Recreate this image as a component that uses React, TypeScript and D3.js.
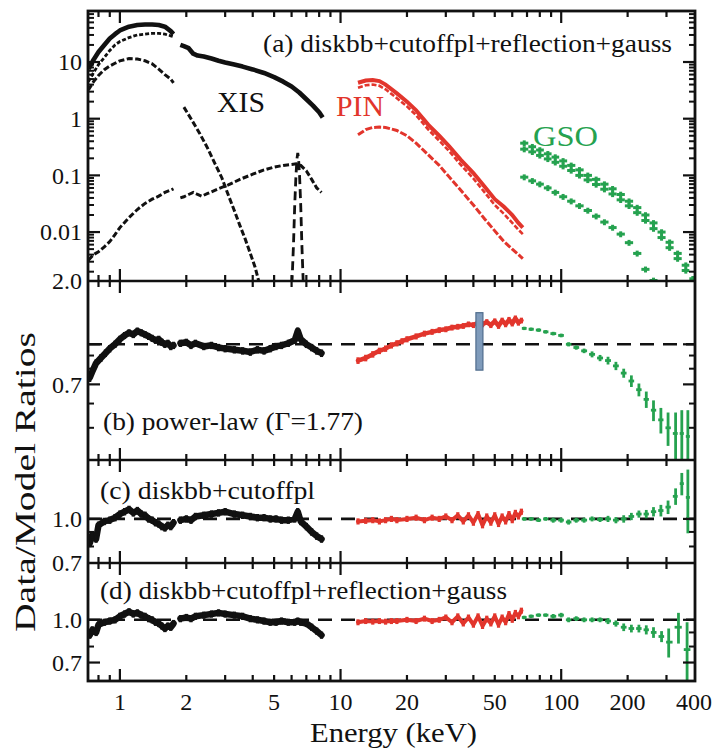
import * as d3 from "d3";

type Pt = [number, number] | null;
type Bin = [number, number, number];

const FONT = "Liberation Serif, Times, serif";
const RED = "#e2352c";
const GREEN = "#25a24f";

const energyMajor = [1, 10, 100];
const energyMinor = [0.8, 0.9, 2, 3, 4, 5, 6, 7, 8, 9, 20, 30, 40, 50, 60, 70, 80, 90, 200, 300];
const energyLabels = [1, 2, 5, 10, 20, 50, 100, 200, 400];

// (a) unfolded spectra, null = gap around the Si edge
const xisTotal: Pt[] = [[0.72, 7.5], [0.74, 9], [0.76, 11], [0.8, 15], [0.85, 20], [0.9, 26], [0.95, 31], [1.0, 36], [1.1, 42], [1.2, 45], [1.3, 46], [1.4, 46], [1.5, 45], [1.6, 42], [1.7, 35], [1.75, 31], null,
  [1.88, 20], [1.95, 19], [2.05, 17.5], [2.15, 14], [2.25, 13], [2.4, 12.5], [2.6, 11.5], [2.8, 10.5], [3.0, 9.8], [3.3, 9.0], [3.6, 8.3], [4.0, 7.4], [4.5, 6.4], [5.0, 5.4], [5.5, 4.5], [6.0, 3.7], [6.5, 2.9], [7.0, 2.2], [7.5, 1.7], [8.0, 1.3], [8.3, 1.05]];
const xisCutoffpl: Pt[] = [[0.72, 4.5], [0.76, 6.5], [0.8, 9], [0.85, 12], [0.9, 16], [0.95, 20], [1.0, 23], [1.1, 27], [1.2, 30], [1.3, 31], [1.4, 32], [1.5, 32], [1.6, 31], [1.7, 29], [1.75, 28]];
const xisDiskbb: Pt[] = [[0.72, 3.2], [0.76, 4.5], [0.8, 5.8], [0.85, 7.3], [0.9, 8.5], [0.95, 9.5], [1.0, 10.5], [1.1, 11.5], [1.2, 11.3], [1.3, 10.5], [1.4, 9.3], [1.5, 7.5], [1.6, 6.0], [1.7, 5.0], [1.75, 4.3], null,
  [1.95, 1.6], [2.1, 1.0], [2.3, 0.55], [2.5, 0.3], [2.7, 0.16], [2.9, 0.09], [3.1, 0.045], [3.3, 0.024], [3.5, 0.013], [3.7, 0.0075], [3.9, 0.0042], [4.1, 0.0024], [4.25, 0.0014]];
const xisReflection: Pt[] = [[0.72, 0.0032], [0.76, 0.004], [0.8, 0.0045], [0.85, 0.0055], [0.9, 0.0068], [0.95, 0.009], [1.0, 0.012], [1.1, 0.018], [1.2, 0.025], [1.3, 0.032], [1.4, 0.038], [1.5, 0.043], [1.6, 0.05], [1.7, 0.055], [1.75, 0.058], null,
  [1.88, 0.04], [1.95, 0.042], [2.05, 0.046], [2.15, 0.05], [2.25, 0.046], [2.35, 0.043], [2.5, 0.048], [2.8, 0.058], [3.1, 0.068], [3.5, 0.085], [4.0, 0.105], [4.5, 0.125], [5.0, 0.14], [5.5, 0.15], [6.0, 0.155], [6.3, 0.16], [6.6, 0.15], [7.0, 0.12], [7.4, 0.085], [7.8, 0.06], [8.2, 0.05]];
const xisGauss: Pt[] = [[6.02, 0.0012], [6.12, 0.006], [6.2, 0.03], [6.28, 0.1], [6.35, 0.2], [6.4, 0.25], [6.45, 0.2], [6.52, 0.1], [6.6, 0.03], [6.68, 0.006], [6.78, 0.0012]];

const pinTotal: Pt[] = [[12, 4.3], [13, 4.7], [14, 4.8], [15, 4.6], [16, 4.0], [18, 2.8], [20, 2.0], [22, 1.4], [25, 0.78], [28, 0.5], [31, 0.33], [35, 0.19], [40, 0.11], [45, 0.063], [50, 0.038], [55, 0.028], [60, 0.02], [64, 0.0145], [67, 0.012]];
const pinModel: Pt[] = [[12, 3.5], [13, 3.9], [14, 4.0], [15, 3.8], [16, 3.3], [18, 2.3], [20, 1.65], [22, 1.15], [25, 0.64], [28, 0.41], [31, 0.27], [35, 0.155], [40, 0.088], [45, 0.05], [50, 0.03], [55, 0.021], [60, 0.0145], [64, 0.011], [67, 0.0092]];
const pinLow: Pt[] = [[12, 0.52], [13, 0.64], [14, 0.7], [15, 0.71], [16, 0.7], [18, 0.62], [20, 0.5], [22, 0.37], [25, 0.23], [28, 0.15], [31, 0.095], [35, 0.055], [40, 0.03], [45, 0.017], [50, 0.0105], [55, 0.0068], [60, 0.005], [64, 0.004], [67, 0.0034]];

const gsoEnergy = [68, 74, 80, 87, 94, 102, 111, 121, 132, 144, 157, 171, 186, 203, 221, 241, 262, 285, 310, 337, 367, 395];
const gsoTotal = [0.37, 0.32, 0.28, 0.24, 0.21, 0.18, 0.15, 0.125, 0.1, 0.085, 0.07, 0.058, 0.046, 0.035, 0.027, 0.02, 0.0145, 0.01, 0.0066, 0.0042, 0.0026, 0.0015];
const gsoModel = [0.29, 0.26, 0.225, 0.195, 0.17, 0.145, 0.122, 0.1, 0.083, 0.069, 0.057, 0.047, 0.037, 0.029, 0.022, 0.016, 0.0115, 0.008, 0.0053, 0.0034, 0.0021, 0.0013];
const gsoLow = [0.093, 0.08, 0.07, 0.06, 0.05, 0.042, 0.035, 0.029, 0.024, 0.019, 0.015, 0.012, 0.0092, 0.0065, 0.0042, 0.0022, 0.0014];

// (b) power-law ratios
const ratioPowXis: Pt[] = [[0.73, 0.74], [0.75, 0.78], [0.78, 0.84], [0.82, 0.88], [0.86, 0.92], [0.9, 0.96], [0.95, 1.0], [1.0, 1.05], [1.05, 1.09], [1.1, 1.12], [1.15, 1.1], [1.2, 1.14], [1.25, 1.12], [1.3, 1.1], [1.35, 1.08], [1.4, 1.06], [1.45, 1.04], [1.5, 1.05], [1.55, 1.02], [1.6, 1.0], [1.65, 1.01], [1.7, 0.98], [1.75, 0.99], null,
  [1.88, 1.01], [2.0, 1.02], [2.1, 0.99], [2.2, 1.01], [2.4, 0.98], [2.6, 0.99], [2.8, 0.97], [3.0, 0.96], [3.3, 0.95], [3.6, 0.94], [3.9, 0.93], [4.2, 0.95], [4.5, 0.94], [4.8, 0.96], [5.1, 0.98], [5.4, 0.99], [5.8, 1.01], [6.2, 1.04], [6.4, 1.14], [6.6, 1.05], [7.0, 1.0], [7.4, 0.97], [7.8, 0.94], [8.2, 0.92]];
const ratioPowPin: Pt[] = [[12, 0.86], [13, 0.88], [14, 0.91], [15, 0.94], [16, 0.96], [17, 0.99], [18, 1.01], [19, 1.03], [20, 1.05], [22, 1.08], [24, 1.11], [26, 1.13], [28, 1.15], [30, 1.16], [32, 1.18], [34, 1.19], [36, 1.2], [38, 1.22], [40, 1.21], [42, 1.24], [44, 1.22], [46, 1.25], [48, 1.21], [50, 1.26], [52, 1.2], [54, 1.27], [56, 1.22], [58, 1.28], [60, 1.23], [62, 1.3], [64, 1.24], [66, 1.27]];
const ratioPowGso: Bin[] = [[68, 1.17, 0.02], [73, 1.16, 0.02], [79, 1.15, 0.02], [85, 1.13, 0.02], [92, 1.11, 0.02], [100, 1.09, 0.02], [108, 1.0, 0.02], [117, 0.97, 0.02], [127, 0.94, 0.02], [138, 0.91, 0.025], [150, 0.88, 0.025], [163, 0.86, 0.03], [177, 0.82, 0.03], [192, 0.77, 0.03], [208, 0.72, 0.035], [225, 0.67, 0.035], [243, 0.62, 0.04], [262, 0.57, 0.045], [283, 0.53, 0.05], [305, 0.5, 0.06], [330, 0.48, 0.08], [352, 0.48, 0.09], [375, 0.47, 0.1]];
const pinMarker = { energy: 42.6, lo: 0.79, hi: 1.38 };

// (c) diskbb+cutoffpl ratios
const ratioCutXis: Pt[] = [[0.73, 0.82], [0.75, 0.88], [0.78, 0.85], [0.8, 0.95], [0.85, 0.98], [0.9, 0.99], [0.95, 1.01], [1.0, 1.04], [1.05, 1.06], [1.1, 1.08], [1.15, 1.05], [1.2, 1.07], [1.25, 1.04], [1.3, 1.03], [1.35, 1.0], [1.4, 0.99], [1.45, 0.97], [1.5, 0.96], [1.55, 0.94], [1.6, 0.93], [1.65, 0.95], [1.7, 0.94], [1.75, 0.97], null,
  [1.88, 0.99], [2.0, 1.0], [2.1, 0.99], [2.2, 1.02], [2.4, 1.03], [2.6, 1.04], [2.8, 1.05], [3.0, 1.06], [3.3, 1.04], [3.6, 1.03], [3.9, 1.02], [4.2, 1.01], [4.5, 1.01], [4.8, 1.0], [5.1, 1.0], [5.4, 0.99], [5.8, 0.99], [6.2, 1.0], [6.4, 1.06], [6.6, 0.98], [7.0, 0.94], [7.4, 0.9], [7.8, 0.87], [8.2, 0.85]];
const ratioCutPin: Pt[] = [[12, 0.98], [13, 0.985], [14, 0.99], [15, 0.98], [16, 0.99], [17, 1.0], [18, 0.99], [20, 1.0], [22, 1.01], [24, 0.99], [26, 1.01], [28, 1.0], [30, 1.02], [32, 0.99], [34, 1.03], [36, 0.98], [38, 1.03], [40, 0.97], [42, 1.04], [44, 0.95], [46, 1.02], [48, 0.97], [50, 1.03], [52, 0.96], [54, 1.02], [56, 0.98], [58, 1.04], [60, 0.99], [62, 1.05], [64, 1.02], [66, 1.06]];
const ratioCutGso: Bin[] = [[68, 1.0, 0.015], [73, 1.0, 0.015], [79, 0.99, 0.015], [85, 1.0, 0.015], [92, 0.99, 0.02], [100, 0.99, 0.02], [108, 0.975, 0.02], [117, 0.99, 0.02], [127, 0.99, 0.02], [138, 1.0, 0.02], [150, 0.995, 0.02], [163, 1.0, 0.025], [177, 0.99, 0.025], [192, 1.0, 0.03], [208, 1.02, 0.03], [225, 1.04, 0.03], [243, 1.04, 0.035], [262, 1.06, 0.04], [283, 1.07, 0.05], [305, 1.1, 0.06], [330, 1.2, 0.08], [352, 1.33, 0.12], [375, 1.19, 0.3]];

// (d) diskbb+cutoffpl+reflection+gauss ratios
const ratioFullXis: Pt[] = [[0.73, 0.88], [0.75, 0.92], [0.78, 0.9], [0.8, 0.96], [0.85, 0.98], [0.9, 0.99], [0.95, 1.0], [1.0, 1.03], [1.05, 1.05], [1.1, 1.07], [1.15, 1.05], [1.2, 1.06], [1.25, 1.04], [1.3, 1.03], [1.35, 1.01], [1.4, 1.0], [1.45, 0.98], [1.5, 0.97], [1.55, 0.95], [1.6, 0.93], [1.65, 0.95], [1.7, 0.94], [1.75, 0.97], null,
  [1.88, 1.01], [2.0, 1.02], [2.1, 1.01], [2.2, 1.03], [2.4, 1.04], [2.6, 1.05], [2.8, 1.06], [3.0, 1.05], [3.3, 1.04], [3.6, 1.03], [3.9, 1.01], [4.2, 1.0], [4.5, 0.99], [4.8, 0.98], [5.1, 0.98], [5.4, 0.99], [5.8, 0.98], [6.2, 0.98], [6.4, 0.99], [6.6, 0.98], [7.0, 0.97], [7.4, 0.94], [7.8, 0.91], [8.2, 0.88]];
const ratioFullPin: Pt[] = [[12, 0.98], [13, 0.99], [14, 0.985], [15, 0.99], [16, 0.985], [17, 0.99], [18, 0.99], [20, 1.0], [22, 0.99], [24, 1.01], [26, 0.99], [28, 1.0], [30, 1.02], [32, 0.98], [34, 1.03], [36, 0.97], [38, 1.02], [40, 0.96], [42, 1.03], [44, 0.95], [46, 1.01], [48, 0.97], [50, 1.03], [52, 0.96], [54, 1.02], [56, 0.98], [58, 1.05], [60, 1.0], [62, 1.06], [64, 1.03], [66, 1.08]];
const ratioFullGso: Bin[] = [[68, 1.02, 0.015], [73, 1.03, 0.015], [79, 1.04, 0.015], [85, 1.04, 0.015], [92, 1.03, 0.02], [100, 1.04, 0.02], [108, 1.0, 0.02], [117, 1.01, 0.02], [127, 1.0, 0.02], [138, 1.0, 0.02], [150, 1.0, 0.02], [163, 0.99, 0.025], [177, 0.97, 0.025], [192, 0.94, 0.03], [208, 0.93, 0.03], [225, 0.93, 0.03], [243, 0.92, 0.035], [262, 0.9, 0.04], [285, 0.87, 0.04], [307, 0.83, 0.1], [340, 0.94, 0.12], [372, 0.78, 0.2]];

const W = 719;
const H = 752;
const LEFT = 88;
const RIGHT = 695;

function binEdges(es: number[]) {
  return es.map((e, i) => {
    const prev = i > 0 ? es[i - 1] : (e * e) / es[i + 1];
    const next = i < es.length - 1 ? es[i + 1] : (e * e) / es[i - 1];
    return [Math.sqrt(prev * e), Math.sqrt(e * next)];
  });
}

export default function App() {
  const x = d3.scaleLog().domain([0.717, 404]).range([LEFT, RIGHT]);
  const ya = d3.scaleLog().domain([0.00137, 79.4]).range([281, 11]);
  const yb = d3.scalePow().exponent(-0.4).domain([0.4, 2.0]).range([460, 281]);
  const yc = d3.scaleLog().domain([0.7, 1.61]).range([563, 460]);
  const yd = d3.scaleLog().domain([0.6, 1.607]).range([681, 563]);

  const panels = [
    { id: "a", y: ya },
    { id: "b", y: yb },
    { id: "c", y: yc },
    { id: "d", y: yd },
  ];

  const lineOf = (y: any) =>
    d3.line<Pt>().defined((d) => d !== null).x((d) => x(d![0])).y((d) => y(d![1]));

  const boundaries = [11, 281, 460, 563, 681];

  // energy ticks on each horizontal frame line
  const xTicks = boundaries.map((by, bi) => {
    const up = bi > 0;
    const down = bi < boundaries.length - 1;
    const tick = (e: number, len: number, k: string) => (
      <line key={k} x1={x(e)} x2={x(e)} y1={up ? by - len : by} y2={down ? by + len : by} stroke="#111" strokeWidth={2.2} />
    );
    return (
      <g key={"xt" + bi}>
        {energyMajor.map((e) => tick(e, 12, "M" + e))}
        {energyMinor.map((e) => tick(e, 6, "m" + e))}
      </g>
    );
  });

  const yTickSet = (y: any, major: number[], minor: number[], key: string) => (
    <g key={key}>
      {major.map((v) => (
        <g key={"M" + v}>
          <line x1={LEFT} x2={LEFT + 12} y1={y(v)} y2={y(v)} stroke="#111" strokeWidth={2.2} />
          <line x1={RIGHT - 12} x2={RIGHT} y1={y(v)} y2={y(v)} stroke="#111" strokeWidth={2.2} />
        </g>
      ))}
      {minor.map((v) => (
        <g key={"m" + v}>
          <line x1={LEFT} x2={LEFT + 6} y1={y(v)} y2={y(v)} stroke="#111" strokeWidth={2} />
          <line x1={RIGHT - 6} x2={RIGHT} y1={y(v)} y2={y(v)} stroke="#111" strokeWidth={2} />
        </g>
      ))}
    </g>
  );

  const aMinor: number[] = [];
  [0.001, 0.01, 0.1, 1, 10].forEach((d) => {
    for (let k = 2; k <= 9; k++) {
      const v = d * k;
      if (v > 0.00137 && v < 79.4) aMinor.push(v);
    }
  });

  const yLabel = (y: any, v: number, text: string, key: string) => (
    <text key={key} x={82} y={y(v)} dy="0.35em" textAnchor="end" fontSize={24} fontFamily={FONT} fill="#111">
      {text}
    </text>
  );

  const gsoCrosses = (energies: number[], vals: number[], y: any, color: string, key: string) => {
    const ed = binEdges(energies);
    return (
      <g key={key} stroke={color} strokeWidth={3}>
        {vals.map((v, i) => (
          <g key={i}>
            <line x1={x(ed[i][0])} x2={x(ed[i][1])} y1={y(v)} y2={y(v)} />
            <line x1={x(energies[i])} x2={x(energies[i])} y1={y(v * 0.88)} y2={y(v * 1.12)} />
          </g>
        ))}
      </g>
    );
  };

  const ratioBins = (bins: Bin[], y: any, key: string) => {
    const ed = binEdges(bins.map((b) => b[0]));
    return (
      <g key={key} stroke={GREEN} strokeWidth={2.8}>
        {bins.map((b, i) => (
          <g key={i}>
            <line x1={x(ed[i][0]) + 1} x2={x(ed[i][1]) - 1} y1={y(b[1])} y2={y(b[1])} />
            <line x1={x(b[0])} x2={x(b[0])} y1={y(b[1] - b[2])} y2={y(b[1] + b[2])} />
          </g>
        ))}
      </g>
    );
  };

  const noisyBand = (pts: Pt[], y: any, color: string, width: number, err: number, key: string) => (
    <g key={key}>
      <path d={lineOf(y)(pts) ?? ""} fill="none" stroke={color} strokeWidth={width} strokeLinejoin="round" strokeLinecap="round" />
      {pts.filter((p) => p !== null).map((p, i) => (
        <line key={i} x1={x(p![0])} x2={x(p![0])} y1={y(p![1] * (1 - err))} y2={y(p![1] * (1 + err))} stroke={color} strokeWidth={3.2} />
      ))}
    </g>
  );

  const dashedUnity = (y: any, key: string) => (
    <line key={key} x1={LEFT} x2={RIGHT} y1={y(1)} y2={y(1)} stroke="#111" strokeWidth={2.6} strokeDasharray="14 9" />
  );

  const panelLabel = (txt: string, px: number, py: number, len: number) => (
    <text x={px} y={py} fontSize={25} fontFamily={FONT} fill="#111" textLength={len} lengthAdjust="spacingAndGlyphs">
      {txt}
    </text>
  );

  return (
    <svg width={W} height={H} style={{ position: "absolute", left: 0, top: 0, background: "#fff" }}>
      <defs>
        {panels.map((p) => (
          <clipPath key={p.id} id={"clip-" + p.id}>
            <rect x={LEFT} y={Math.min(...p.y.range())} width={RIGHT - LEFT} height={Math.abs(p.y.range()[0] - p.y.range()[1])} />
          </clipPath>
        ))}
      </defs>

      {/* (a) spectra */}
      <g clipPath="url(#clip-a)">
        <path d={lineOf(ya)(xisReflection) ?? ""} fill="none" stroke="#111" strokeWidth={3} strokeDasharray="6 2.5" />
        <path d={lineOf(ya)(xisDiskbb) ?? ""} fill="none" stroke="#111" strokeWidth={3} strokeDasharray="6 2.5" />
        <path d={lineOf(ya)(xisCutoffpl) ?? ""} fill="none" stroke="#111" strokeWidth={2.8} strokeDasharray="4 2" />
        <path d={lineOf(ya)(xisTotal) ?? ""} fill="none" stroke="#111" strokeWidth={4.6} strokeLinejoin="round" />
        <path d={lineOf(ya)(xisGauss) ?? ""} fill="none" stroke="#111" strokeWidth={2.8} strokeDasharray="9 5" />
        <path d={lineOf(ya)(pinLow) ?? ""} fill="none" stroke={RED} strokeWidth={3} strokeDasharray="7 2" />
        <path d={lineOf(ya)(pinModel) ?? ""} fill="none" stroke={RED} strokeWidth={2.6} strokeDasharray="5 2" />
        <path d={lineOf(ya)(pinTotal) ?? ""} fill="none" stroke={RED} strokeWidth={4} />
        {gsoCrosses(gsoEnergy.slice(0, gsoLow.length), gsoLow, ya, GREEN, "gl")}
        {gsoCrosses(gsoEnergy, gsoModel, ya, GREEN, "gm")}
        {gsoCrosses(gsoEnergy, gsoTotal, ya, GREEN, "gt")}
      </g>
      {panelLabel("(a) diskbb+cutoffpl+reflection+gauss", 263, 52, 409)}
      <text x={217} y={112} fontSize={29} fontFamily={FONT} fill="#111" textLength={48} lengthAdjust="spacingAndGlyphs">XIS</text>
      <text x={336} y={116} fontSize={29} fontFamily={FONT} fill={RED} textLength={48} lengthAdjust="spacingAndGlyphs">PIN</text>
      <text x={533} y={146} fontSize={29} fontFamily={FONT} fill={GREEN} textLength={65} lengthAdjust="spacingAndGlyphs">GSO</text>

      {/* (b) power-law ratios */}
      <g clipPath="url(#clip-b)">
        {dashedUnity(yb, "db")}
        {noisyBand(ratioPowXis, yb, "#111", 6.5, 0.035, "bx")}
        {noisyBand(ratioPowPin, yb, RED, 4.5, 0.03, "bp")}
        {ratioBins(ratioPowGso, yb, "bg")}
        <rect x={x(pinMarker.energy) - 3.5} width={7} y={yb(pinMarker.hi)} height={yb(pinMarker.lo) - yb(pinMarker.hi)} fill="#7f9bbb" stroke="#4f6c8c" strokeWidth={1.2} />
      </g>
      {panelLabel("(b) power-law (\u0393=1.77)", 103, 430, 260)}

      {/* (c) diskbb+cutoffpl ratios */}
      <g clipPath="url(#clip-c)">
        {dashedUnity(yc, "dc")}
        {noisyBand(ratioCutXis, yc, "#111", 6.5, 0.03, "cx")}
        {noisyBand(ratioCutPin, yc, RED, 4, 0.025, "cp")}
        {ratioBins(ratioCutGso, yc, "cg")}
      </g>
      {panelLabel("(c) diskbb+cutoffpl", 100, 499, 215)}

      {/* (d) full model ratios */}
      <g clipPath="url(#clip-d)">
        {dashedUnity(yd, "dd")}
        {noisyBand(ratioFullXis, yd, "#111", 6.5, 0.03, "dx")}
        {noisyBand(ratioFullPin, yd, RED, 4, 0.025, "dp")}
        {ratioBins(ratioFullGso, yd, "dg")}
      </g>
      {panelLabel("(d) diskbb+cutoffpl+reflection+gauss", 100, 599, 407)}

      {/* frame and ticks */}
      <rect x={LEFT} y={11} width={RIGHT - LEFT} height={681 - 11} fill="none" stroke="#111" strokeWidth={2.8} />
      {boundaries.slice(1, -1).map((by) => (
        <line key={by} x1={LEFT} x2={RIGHT} y1={by} y2={by} stroke="#111" strokeWidth={2.6} />
      ))}
      {xTicks}
      {yTickSet(ya, [0.01, 0.1, 1, 10], aMinor, "ta")}
      {yTickSet(yb, [1.0, 0.7], [0.9, 0.8, 0.6, 0.5], "tb")}
      {yTickSet(yc, [1.0], [0.9, 0.8], "tc")}
      {yTickSet(yd, [1.0, 0.7], [0.9, 0.8], "td")}

      {yLabel(ya, 10, "10", "la10")}
      {yLabel(ya, 1, "1", "la1")}
      {yLabel(ya, 0.1, "0.1", "la01")}
      {yLabel(ya, 0.01, "0.01", "la001")}
      {yLabel(yb, 2.0, "2.0", "lb2")}
      {yLabel(yb, 0.7, "0.7", "lb07")}
      {yLabel(yc, 1.0, "1.0", "lc1")}
      {yLabel(yc, 0.7, "0.7", "lc07")}
      {yLabel(yd, 1.0, "1.0", "ld1")}
      {yLabel(yd, 0.7, "0.7", "ld07")}

      {energyLabels.map((e) => (
        <text key={e} x={x(e)} y={710} textAnchor="middle" fontSize={24} fontFamily={FONT} fill="#111">
          {e}
        </text>
      ))}
      <text x={310} y={742} fontSize={27} fontFamily={FONT} fill="#111" textLength={167} lengthAdjust="spacingAndGlyphs">
        Energy (keV)
      </text>
      <text transform="translate(35,482) rotate(-90)" textAnchor="middle" fontSize={29} fontFamily={FONT} fill="#111" textLength={300} lengthAdjust="spacingAndGlyphs">
        Data/Model Ratios
      </text>
    </svg>
  );
}
